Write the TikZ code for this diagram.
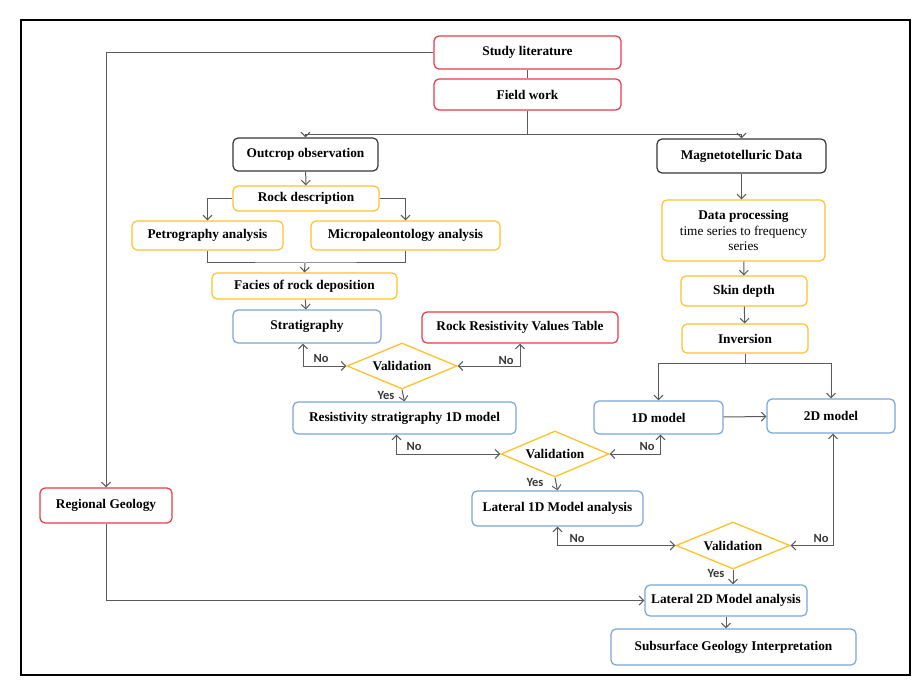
\documentclass[tikz,border=0pt]{standalone}
\usepackage{fontspec}
\setmainfont{Liberation Serif}
\newfontfamily\labelfont{Carlito}
\usepackage{xcolor}
\usepackage{tikz}
\usetikzlibrary{arrows.meta,positioning,shapes.geometric,calc}
\definecolor{boxred}{RGB}{232,58,72}
\definecolor{boxgold}{RGB}{252,194,40}
\definecolor{boxblue}{RGB}{122,166,214}
\definecolor{boxdark}{RGB}{55,55,55}
\definecolor{linegray}{RGB}{90,90,90}

\tikzset{
  box/.style={draw, rounded corners=5pt, line width=1.2pt, fill=white, inner sep=2pt,
    font=\fontsize{13.3}{15.5}\selectfont\bfseries, align=center},
  redbox/.style={box, draw=boxred},
  goldbox/.style={box, draw=boxgold},
  bluebox/.style={box, draw=boxblue},
  darkbox/.style={box, draw=boxdark},
  checkbox/.style={draw=boxgold, line width=1.3pt, diamond, aspect=2.4, inner sep=0pt,
    minimum width=110pt, minimum height=46pt, font=\fontsize{13.3}{15.5}\selectfont\bfseries},
  conn/.style={draw=linegray, line width=1pt},
  lbl/.style={font=\labelfont\fontsize{12.5}{14}\selectfont\bfseries, text=boxdark, inner sep=0pt},
  >={Straight Barb[length=4.5pt,width=9pt]}
}

\begin{document}
\begin{tikzpicture}[x=1pt,y=-1pt]
\useasboundingbox (0,0) rectangle (924,695);
\draw[line width=2.5pt] (21,20) rectangle (910,675);

% left branch
\node[redbox, minimum width=187pt, minimum height=33pt] (study) at (527.5,52.5) {Study literature};
\node[redbox, minimum width=187pt, minimum height=31pt] (field) at (527.5,94.5) {Field work};
\node[darkbox, minimum width=145pt, minimum height=33pt] (outcrop) at (305.5,154.5) {Outcrop observation};
\node[goldbox, minimum width=146pt, minimum height=25pt] (rockdesc) at (306,198.5) {Rock description};
\node[goldbox, minimum width=151pt, minimum height=29pt] (petro) at (207.5,235.5) {Petrography analysis};
\node[goldbox, minimum width=189pt, minimum height=29pt] (micro) at (405.5,235.5) {Micropaleontology analysis};
\node[goldbox, minimum width=185pt, minimum height=26pt] (facies) at (304.5,286) {Facies of rock deposition};
\node[bluebox, minimum width=148pt, minimum height=33pt] (strat) at (307,326.5) {Stratigraphy};
\node[redbox, minimum width=196pt, minimum height=31pt] (rrvt) at (520,327.5) {Rock Resistivity Values Table};
\node[checkbox] (val1) at (402,366) {Validation};
\node[bluebox, minimum width=223pt, minimum height=32pt] (rs1d) at (404.5,418) {Resistivity stratigraphy 1D model};
\node[checkbox, minimum width=108pt] (val2) at (555,454) {Validation};
\node[bluebox, minimum width=171pt, minimum height=35pt] (lat1d) at (557.5,508.5) {Lateral 1D Model analysis};
\node[checkbox, minimum width=114pt, minimum height=47pt] (val3) at (733,545.5) {Validation};
\node[bluebox, minimum width=162pt, minimum height=31pt] (lat2d) at (726,600.5) {Lateral 2D Model analysis};
\node[bluebox, minimum width=245pt, minimum height=36pt] (subsurf) at (733.5,647) {Subsurface Geology Interpretation};
\node[redbox, minimum width=132pt, minimum height=35pt] (regional) at (106,505.5) {Regional Geology};

% right branch
\node[darkbox, minimum width=169pt, minimum height=34pt] (mtdata) at (741.5,156) {Magnetotelluric Data};
\node[goldbox, minimum width=163pt, minimum height=61pt] (dproc) at (743.5,230.5)
  {Data processing\\\mdseries time series to frequency\\\mdseries series};
\node[goldbox, minimum width=126pt, minimum height=30pt] (skin) at (744,291) {Skin depth};
\node[goldbox, minimum width=126pt, minimum height=29pt] (inv) at (745,338.5) {Inversion};
\node[bluebox, minimum width=129pt, minimum height=33pt] (m1d) at (658.5,417.5) {1D model};
\node[bluebox, minimum width=128pt, minimum height=34pt] (m2d) at (831,416) {2D model};

\coordinate (fsplit) at ($(field.south)+(0,23.5)$);
\coordinate (bjoin) at (305,263);
\coordinate (isplit) at ($(inv.south)+(0,10)$);

% connectors
\draw[conn] (study) -- (field);
\draw[conn] (field.south) -- (fsplit);
\draw[conn,->] (fsplit) -| (outcrop.north);
\draw[conn,->] (fsplit) -| (mtdata.north);
\draw[conn,->] (study.west) -| (regional.north);
\draw[conn,->] (outcrop) -- (rockdesc);
\draw[conn,->] (rockdesc.west) -| (petro.north);
\draw[conn,->] (rockdesc.east) -| (micro.north);
\draw[conn] (petro.south) |- (bjoin) -| (micro.south);
\draw[conn,->] (bjoin) -- (facies.north);
\draw[conn,->] (facies) -- (strat);
\draw[conn,<->] ([xshift=-4pt]strat.south) |- (val1.west);
\draw[conn,<->] (rrvt.south) |- (val1.east);
\draw[conn,->] (val1.south) -- (rs1d.north);
\draw[conn,<->] ([xshift=-8pt]rs1d.south) |- (val2.west);
\draw[conn,<->] ([xshift=2pt]m1d.south) |- (val2.east);
\draw[conn,->] (val2.south) -- (lat1d.north);
\draw[conn,<->] (lat1d.south) |- (val3.west);
\draw[conn,<->] ([xshift=2pt]m2d.south) |- (val3.east);
\draw[conn,->] (val3.south) -- (val3.south |- lat2d.north);
\draw[conn,->] (lat2d) -- (lat2d.south |- subsurf.north);
\draw[conn,->] (regional.south) |- (lat2d.west);
\draw[conn,->] (mtdata) -- (mtdata.south |- dproc.north);
\draw[conn,->] (dproc) -- (skin);
\draw[conn,->] (skin) -- (inv);
\draw[conn] (inv.south) -- (isplit);
\draw[conn,->] (isplit) -| (m1d.north);
\draw[conn,->] (isplit) -| (m2d.north);
\draw[conn,->] (m1d) -- (m2d);

% branch labels
\node[lbl] (no1a) at (321,358) {No};
\node[lbl] (no1b) at (506,360) {No};
\node[lbl] (yes1) at (386,395) {Yes};
\node[lbl] (no2a) at (414,446) {No};
\node[lbl] (no2b) at (647,446) {No};
\node[lbl] (yes2) at (535,482) {Yes};
\node[lbl] (no3a) at (577,538) {No};
\node[lbl] (no3b) at (821,538) {No};
\node[lbl] (yes3) at (716,573) {Yes};
\end{tikzpicture}
\end{document}
